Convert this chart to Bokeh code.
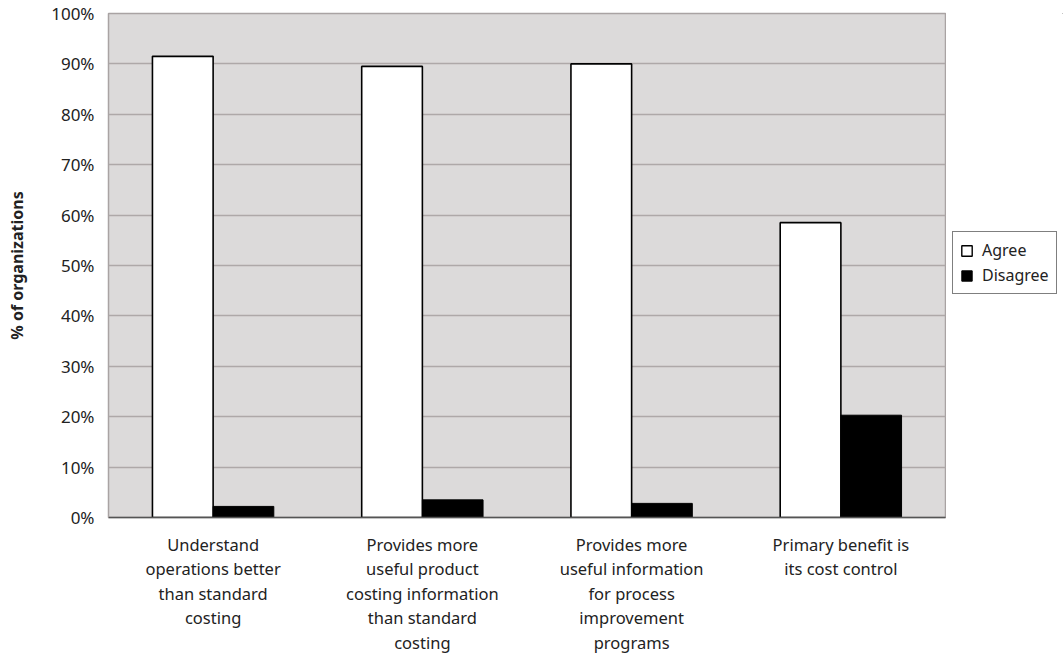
from bokeh.plotting import figure
from bokeh.layouts import row
from bokeh.models import ColumnDataSource, FactorRange, Range1d, Legend, LegendItem, PrintfTickFormatter, FixedTicker
from bokeh.transform import dodge
from bokeh.embed import file_html
from bokeh.resources import INLINE

categories = [
    "Understand\noperations better\nthan standard\ncosting",
    "Provides more\nuseful product\ncosting information\nthan standard\ncosting",
    "Provides more\nuseful information\nfor process\nimprovement\nprograms",
    "Primary benefit is\nits cost control",
]
series = ["Agree", "Disagree"]
agree = [91.5, 89.5, 90.0, 58.5]
disagree = [2.2, 3.5, 2.8, 20.3]
y_ticks = [0, 10, 20, 30, 40, 50, 60, 70, 80, 90, 100]

src = ColumnDataSource(data=dict(cat=categories, agree=agree, disagree=disagree))

FONT = "Noto Sans"

p = figure(
    width=946, height=656,
    x_range=FactorRange(*categories, range_padding=0.0),
    y_range=Range1d(0, 100),
    output_backend="svg", toolbar_location=None,
    min_border_left=108, min_border_top=13, min_border_bottom=136, min_border_right=1,
    background_fill_color="#dcdada",
)

bw = 0.29
r1 = p.vbar(x=dodge("cat", -0.145, range=p.x_range), top="agree", width=bw, source=src,
            fill_color="white", line_color="black", line_width=1.6)
r2 = p.vbar(x=dodge("cat", 0.145, range=p.x_range), top="disagree", width=bw, source=src,
            fill_color="black", line_color="black", line_width=1)

p.outline_line_color = "#a9a3a3"
p.outline_line_width = 1.5
p.xgrid.grid_line_color = None
p.ygrid.grid_line_color = "#aea8a8"
p.ygrid.grid_line_width = 1.5
p.yaxis.ticker = FixedTicker(ticks=y_ticks)
p.yaxis.formatter = PrintfTickFormatter(format="%d%%")
p.yaxis.major_tick_line_color = None
p.yaxis.minor_tick_line_color = None
p.yaxis.axis_line_color = "#a9a3a3"
p.yaxis.major_label_text_font = FONT
p.yaxis.major_label_text_font_size = "17px"
p.yaxis.major_label_text_color = "#222222"
p.yaxis.major_label_standoff = 8
p.yaxis.axis_label = "% of organizations"
p.yaxis.axis_label_text_font = FONT
p.yaxis.axis_label_text_font_style = "bold"
p.yaxis.axis_label_text_font_size = "16px"
p.yaxis.axis_label_text_color = "#222222"
p.yaxis.axis_label_standoff = 20

p.xaxis.major_tick_line_color = None
p.xaxis.axis_line_color = "#555555"
p.xaxis.axis_line_width = 1.5
p.xaxis.major_label_text_font = FONT
p.xaxis.major_label_text_font_size = "16.5px"
p.xaxis.major_label_text_line_height = 1.07
p.xaxis.major_label_text_color = "#222222"
p.xaxis.major_label_standoff = 9

# legend panel (its glyphs use the same data, kept outside this panel's view)
lg = figure(width=117, height=656, output_backend="svg", toolbar_location=None,
            x_range=Range1d(-2, -1), y_range=Range1d(-2, -1),
            x_axis_type=None, y_axis_type=None,
            min_border_left=0, min_border_right=0, min_border_top=13, min_border_bottom=136)
lg.outline_line_color = None
lg.grid.visible = False
l1 = lg.vbar(x="agree", top="agree", width=0.1, source=src, fill_color="white", line_color="black", line_width=1.4)
l2 = lg.vbar(x="disagree", top="disagree", width=0.1, source=src, fill_color="black", line_color="black", line_width=1)

legend = Legend(items=[LegendItem(label=series[0], renderers=[l1]),
                       LegendItem(label=series[1], renderers=[l2])],
                location=(6, 223))
legend.border_line_color = "black"
legend.border_line_width = 1.5
legend.background_fill_color = "white"
legend.label_text_font = FONT
legend.label_text_font_size = "16px"
legend.label_text_color = "#222222"
legend.glyph_width = 13
legend.glyph_height = 13
legend.label_standoff = 9
legend.padding = 7
legend.spacing = 3
legend.margin = 0
legend.label_height = 20
lg.add_layout(legend)

layout = row(p, lg, spacing=0)
open("out.html", "w").write(file_html(layout, INLINE))
